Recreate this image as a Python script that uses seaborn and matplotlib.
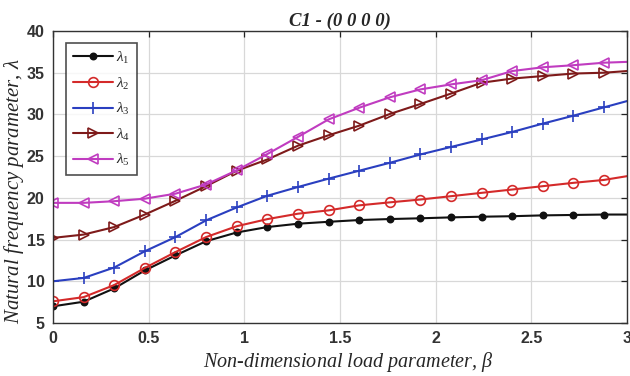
import numpy as np
import pandas as pd
import matplotlib
matplotlib.use("Agg")
import matplotlib.pyplot as plt
import seaborn as sns

beta = [0.0, 0.16, 0.32, 0.48, 0.64, 0.80, 0.96, 1.12, 1.28, 1.44, 1.60, 1.76,
        1.92, 2.08, 2.24, 2.40, 2.56, 2.72, 2.88, 3.0]
lam1 = [7.0, 7.55, 9.15, 11.3, 13.1, 14.8, 15.85, 16.5, 16.9, 17.13, 17.34, 17.46,
        17.55, 17.66, 17.74, 17.8, 17.9, 17.95, 18.0, 18.0]
lam2 = [7.6, 8.1, 9.55, 11.6, 13.5, 15.3, 16.6, 17.45, 18.1, 18.5, 19.1, 19.46,
        19.8, 20.2, 20.6, 21.0, 21.4, 21.8, 22.15, 22.6]
lam3 = [10.0, 10.4, 11.65, 13.6, 15.3, 17.3, 18.85, 20.25, 21.3, 22.3, 23.25, 24.2,
        25.2, 26.1, 27.0, 27.9, 28.9, 29.85, 30.85, 31.6]
lam4 = [15.2, 15.6, 16.5, 18.0, 19.65, 21.4, 23.25, 24.6, 26.25, 27.5, 28.65, 30.05,
        31.25, 32.5, 33.8, 34.3, 34.6, 34.9, 35.0, 35.2]
lam5 = [19.4, 19.4, 19.6, 19.9, 20.5, 21.6, 23.3, 25.25, 27.3, 29.4, 30.8, 32.05,
        33.0, 33.6, 34.1, 35.2, 35.65, 35.9, 36.2, 36.3]
labels = [r"$\lambda_1$", r"$\lambda_2$", r"$\lambda_3$", r"$\lambda_4$", r"$\lambda_5$"]
title = "C1 - (0 0 0 0)"
xlabel = r"Non-dimensional load parameter, $\beta$"
ylabel = r"Natural frequency parameter, $\lambda$"
xticks = [0, 0.5, 1, 1.5, 2, 2.5, 3]
xticklabels = ["0", "0.5", "1", "1.5", "2", "2.5", "3"]
yticks = [5, 10, 15, 20, 25, 30, 35, 40]

series = [lam1, lam2, lam3, lam4, lam5]
colors = ["#111111", "#d42a2a", "#2a3fc0", "#7e1a1a", "#c03cc0"]
markers = ["o", "o", "+", ">", "<"]
mfc = ["#111111", "none", "#2a3fc0", "none", "none"]
msize = [4.5, 7, 8, 7, 7]

sns.set_theme(style="whitegrid")
plt.rcParams["font.family"] = ["Liberation Sans", "DejaVu Sans"]
plt.rcParams["mathtext.fontset"] = "custom"
plt.rcParams["mathtext.it"] = "Liberation Serif:italic"
plt.rcParams["mathtext.rm"] = "Liberation Serif"

fig = plt.figure(figsize=(6.3, 3.76), dpi=100)
ax = fig.add_axes([53/630, 1 - 323/376, (627-53)/630, (323-31)/376])

for i, (vals, lab) in enumerate(zip(series, labels)):
    df = pd.DataFrame({"beta": beta, "val": vals})
    sns.lineplot(data=df, x="beta", y="val", ax=ax, color=colors[i], label=lab,
                 marker=markers[i], markersize=msize[i], markerfacecolor=mfc[i],
                 markeredgecolor=colors[i], markeredgewidth=1.2, linewidth=1.5,
                 markevery=list(range(19)))

ax.set_xlim(0, 3)
ax.set_ylim(5, 40)
ax.set_xticks(xticks)
ax.set_xticklabels(xticklabels)
ax.set_yticks(yticks)
ax.grid(True, color="#d8d8d8", linewidth=0.9)
for s in ax.spines.values():
    s.set_color("#333333")
    s.set_linewidth(1.0)
ax.tick_params(direction="in", length=4, width=0.9, top=True, right=True,
               labelsize=11.5, colors="#222222", pad=6)
for t in ax.get_xticklabels() + ax.get_yticklabels():
    t.set_fontweight("bold")
    t.set_color("#333333")

ax.set_title(title, fontsize=13.5, fontweight="bold", fontstyle="italic",
             family="Liberation Serif", pad=4)
ax.set_xlabel(xlabel, fontsize=14.5, fontstyle="italic",
              family="Liberation Serif")
ax.set_ylabel(ylabel, fontsize=15, fontstyle="italic",
              family="Liberation Serif")
ax.xaxis.set_label_coords(0.514, -0.094)
ax.yaxis.set_label_coords(-0.0475, 0.45)

leg = ax.legend(loc="upper left", bbox_to_anchor=(0.0226, 0.959), borderaxespad=0,
                frameon=True, fancybox=False, edgecolor="#222222", fontsize=11,
                handlelength=2.6, borderpad=0.45, labelspacing=0.62,
                handletextpad=0.25)
leg.get_frame().set_linewidth(1.2)

fig.savefig("out.png", dpi=100)
